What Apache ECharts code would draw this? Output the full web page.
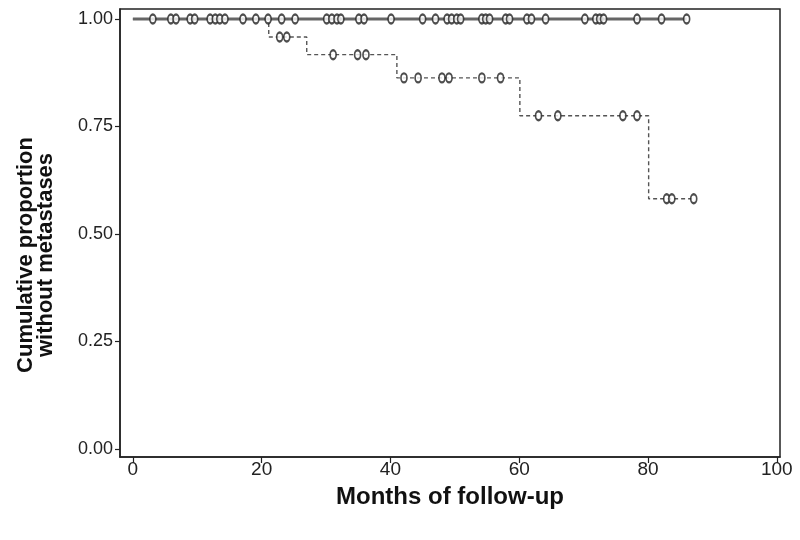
<!DOCTYPE html>
<html>
<head>
<meta charset="utf-8">
<script src="https://cdn.jsdelivr.net/npm/echarts@6/dist/echarts.min.js"></script>
<style>html,body{margin:0;padding:0;background:#fff;}#c{width:800px;height:540px;}</style>
</head>
<body>
<div id="c"></div>
<script>
// Group A (solid): no events, censoring times (months)
const solidCensor = [3.1,5.9,6.7,8.9,9.6,12.0,12.8,13.5,14.3,17.1,19.1,21.0,23.1,25.2,30.1,30.9,31.7,32.3,35.1,35.9,40.1,45.0,47.0,48.8,49.5,50.3,50.9,54.2,54.8,55.4,57.9,58.5,61.2,61.9,64.1,70.2,71.9,72.5,73.1,78.3,82.1,86.0];
const solidEnd = 86.0;
// Group B (dashed): event times and survival after each event
const dashEventTimes = [21.1, 27.0, 41.0, 60.1, 80.1];
const dashSurvival   = [0.958, 0.917, 0.863, 0.775, 0.582];
const dashCensor = [22.8,23.9,31.1,34.9,36.2,42.1,44.3,48.0,49.1,54.2,57.1,63.0,66.0,76.1,78.3,82.9,83.7,87.1];
const dashEnd = 87.1;
// axis ticks
const xTicks = [0,20,40,60,80,100];
const yTicks = [0,0.25,0.5,0.75,1.0];

function survAt(t, times, surv){ let s=1; for(let i=0;i<times.length;i++){ if(t>=times[i]) s=surv[i]; } return s; }

const solidLine = [[0,1],[solidEnd,1]];
const dashLine = [[0,1]];
dashEventTimes.forEach((t,i)=>dashLine.push([t,dashSurvival[i]]));
dashLine.push([dashEnd, dashSurvival[dashSurvival.length-1]]);

const solidPts = solidCensor.map(t=>[t,1]);
const dashPts = dashCensor.map(t=>[t,survAt(t,dashEventTimes,dashSurvival)]);

const font = 'Liberation Sans, Arial, sans-serif';
const markStyle = {color:'#222',borderColor:'#222',borderWidth:1.5};
const chart = echarts.init(document.getElementById('c'), null, {renderer:'canvas'});
chart.setOption({
  backgroundColor:'#fff',
  animation:false,
  grid:{left:120,right:20,top:9,bottom:83,show:true,borderColor:'#222',borderWidth:1.5,backgroundColor:'transparent'},
  xAxis:{type:'value',min:-2.0,max:100.5,
    name:'Months of follow-up',nameLocation:'middle',nameGap:28,
    nameTextStyle:{fontFamily:font,fontSize:24,fontWeight:'bold',color:'#111'},
    axisLine:{show:true,onZero:false,lineStyle:{color:'#222',width:1.5}},
    axisTick:{show:true,customValues:xTicks,length:6,lineStyle:{color:'#222',width:1.2}},
    axisLabel:{customValues:xTicks,fontFamily:font,fontSize:19,color:'#222',margin:3},
    splitLine:{show:false}},
  yAxis:{type:'value',min:-0.0185,max:1.0232,
    name:'Cumulative proportion\nwithout metastases',nameLocation:'middle',nameGap:64,
    nameTextStyle:{fontFamily:font,fontSize:22,fontWeight:'bold',color:'#111',lineHeight:20,padding:[0,44,0,0]},
    axisLine:{show:true,onZero:false,lineStyle:{color:'#222',width:1.5}},
    axisTick:{show:true,customValues:yTicks,length:5,lineStyle:{color:'#222',width:1.2}},
    axisLabel:{customValues:yTicks,fontFamily:font,fontSize:18,color:'#222',margin:7,formatter:v=>v.toFixed(2)},
    splitLine:{show:false}},
  series:[
    {type:'line',data:dashLine,step:'end',symbol:'none',lineStyle:{color:'#555',width:1.4,type:[4,3]},z:2},
    {type:'scatter',data:dashPts,symbol:'emptyCircle',symbolSize:[6,9],itemStyle:markStyle,z:3},
    {type:'line',data:solidLine,symbol:'none',lineStyle:{color:'#666',width:3},z:4},
    {type:'scatter',data:solidPts,symbol:'emptyCircle',symbolSize:[6,9],itemStyle:markStyle,z:5}
  ]
});
</script>
</body>
</html>
